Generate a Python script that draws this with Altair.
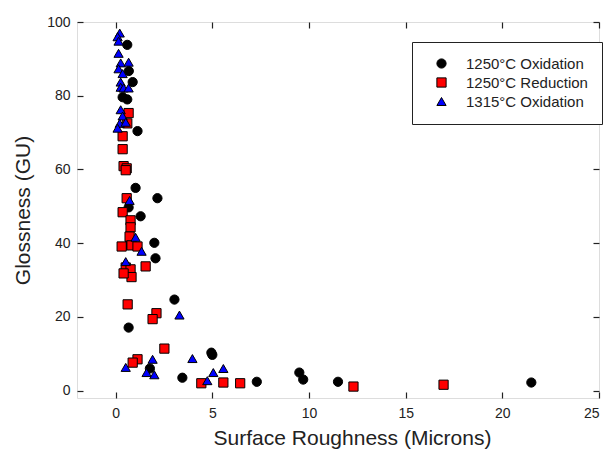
import altair as alt
import pandas as pd

series_names = ["1250°C Oxidation", "1250°C Reduction", "1315°C Oxidation"]

ox1250_x = [0.6, 0.68, 0.88, 0.36, 0.6, 1.13, 1.03, 2.16, 0.67, 1.29, 0.65, 2.0, 2.06,
            3.04, 0.67, 1.77, 3.45, 4.95, 5.0, 7.3, 9.5, 9.7, 11.5, 21.5]
ox1250_y = [93.8, 86.7, 83.7, 79.6, 79.0, 70.4, 55.0, 52.2, 49.7, 47.3, 39.5, 40.1, 35.9,
            24.7, 17.1, 6.0, 3.5, 10.3, 9.7, 2.4, 4.9, 3.0, 2.4, 2.2]

red1250_x = [0.67, 0.6, 0.36, 0.36, 0.41, 0.57, 0.52, 0.57, 0.36, 0.77, 0.77, 0.72, 0.31,
             0.82, 1.13, 0.52, 0.77, 0.82, 0.41, 1.55, 0.62, 2.11, 1.91, 2.52, 1.13, 0.88,
             4.43, 5.57, 6.44, 12.3, 16.96]
red1250_y = [75.3, 72.5, 69.0, 65.5, 60.9, 60.3, 59.8, 52.2, 48.4, 46.2, 44.3, 41.8, 39.1,
             39.4, 39.1, 33.4, 32.9, 30.8, 31.8, 33.7, 23.4, 21.0, 19.4, 11.4, 8.5, 7.6,
             2.0, 2.2, 2.0, 1.1, 1.6]

ox1315_x = [0.21, 0.1, 0.15, 0.15, 0.26, 0.67, 0.15, 0.36, 0.26, 0.26, 0.41, 0.67, 0.26,
            0.36, 0.21, 0.1, 0.52, 0.72, 1.03, 1.34, 0.52, 3.3, 0.52, 1.91, 1.6, 2.0,
            3.97, 5.05, 5.57, 4.74]
ox1315_y = [97.0, 96.0, 94.8, 91.5, 88.9, 89.1, 87.3, 86.0, 83.7, 82.3, 82.1, 82.1, 76.2,
            74.5, 72.5, 71.2, 72.8, 51.6, 41.6, 37.8, 35.0, 20.5, 6.3, 8.5, 4.9, 4.3,
            8.7, 4.9, 6.0, 2.7]

x_ticks = [0, 5, 10, 15, 20, 25]
y_ticks = [0, 20, 40, 60, 80, 100]

rows = []
for name, xs, ys in zip(series_names,
                        [ox1250_x, red1250_x, ox1315_x],
                        [ox1250_y, red1250_y, ox1315_y]):
    for xv, yv in zip(xs, ys):
        rows.append({"series": name, "x": xv, "y": yv})
df = pd.DataFrame(rows)

FONT = "Liberation Sans"

xscale = alt.Scale(domain=[-2, 25], nice=False, zero=False)
yscale = alt.Scale(domain=[-2, 100], nice=False, zero=False)

points = alt.Chart(df).mark_point(filled=True, stroke="black", strokeWidth=1,
                                  opacity=1).encode(
    x=alt.X("x:Q", scale=xscale,
            axis=alt.Axis(values=x_ticks, title="Surface Roughness (Microns)", orient="bottom",
                          offset=-6, tickSize=6, domain=False, grid=False,
                          labelPadding=8, titlePadding=7, titleX=275,
                          labelFont=FONT, labelFontSize=14, labelColor="#222",
                          titleFont=FONT, titleFontSize=21, titleFontWeight="normal",
                          titleColor="#222", tickColor="#222", tickWidth=1.2)),
    y=alt.Y("y:Q", scale=yscale,
            axis=alt.Axis(values=y_ticks, title="Glossness (GU)", orient="left",
                          offset=-6, tickSize=6, domain=False, grid=False,
                          labelPadding=7, titlePadding=13,
                          labelFont=FONT, labelFontSize=14, labelColor="#222",
                          titleFont=FONT, titleFontSize=21, titleFontWeight="normal",
                          titleColor="#222", tickColor="#222", tickWidth=1.2)),
    color=alt.Color("series:N",
                    scale=alt.Scale(domain=series_names, range=["#000000", "#ff0000", "#0000ff"]),
                    legend=alt.Legend(title=None, orient="none", legendX=335, legendY=20,
                                      strokeColor="#222", fillColor="white", padding=14,
                                      labelFont=FONT, labelFontSize=15, labelColor="#222",
                                      symbolSize=65, symbolStrokeColor="black",
                                      symbolStrokeWidth=1, labelOffset=17, rowPadding=3,
                                      symbolOffset=8)),
    shape=alt.Shape("series:N",
                    scale=alt.Scale(domain=series_names, range=["circle", "square", "triangle-up"]),
                    legend=alt.Legend(title=None, orient="none", legendX=335, legendY=20)),
    size=alt.Size("series:N",
                  scale=alt.Scale(domain=series_names, range=[85, 85, 125]),
                  legend=None),
    order=alt.Order("idx:Q"),
).transform_window(idx="row_number()")

mirror = alt.Chart(df).mark_point(opacity=0).encode(
    x=alt.X("x:Q", scale=xscale,
            axis=alt.Axis(values=x_ticks, title="", orient="top", offset=-6, tickSize=6,
                          labels=False, domain=False, grid=False,
                          tickColor="#222", tickWidth=1.2)),
    y=alt.Y("y:Q", scale=yscale,
            axis=alt.Axis(values=y_ticks, title="", orient="right", offset=-6, tickSize=6,
                          labels=False, domain=False, grid=False,
                          tickColor="#222", tickWidth=1.2)),
)

chart = alt.layer(points, mirror).resolve_axis(x="independent", y="independent").properties(
    width=522, height=376,
    autosize=alt.AutoSizeParams(type="none"),
    padding={"left": 77, "top": 22, "right": 9, "bottom": 52},
).configure_view(stroke="#222", strokeWidth=1.5).configure(background="white")

chart.save("out.html", embed_options={"renderer": "svg", "actions": False})
